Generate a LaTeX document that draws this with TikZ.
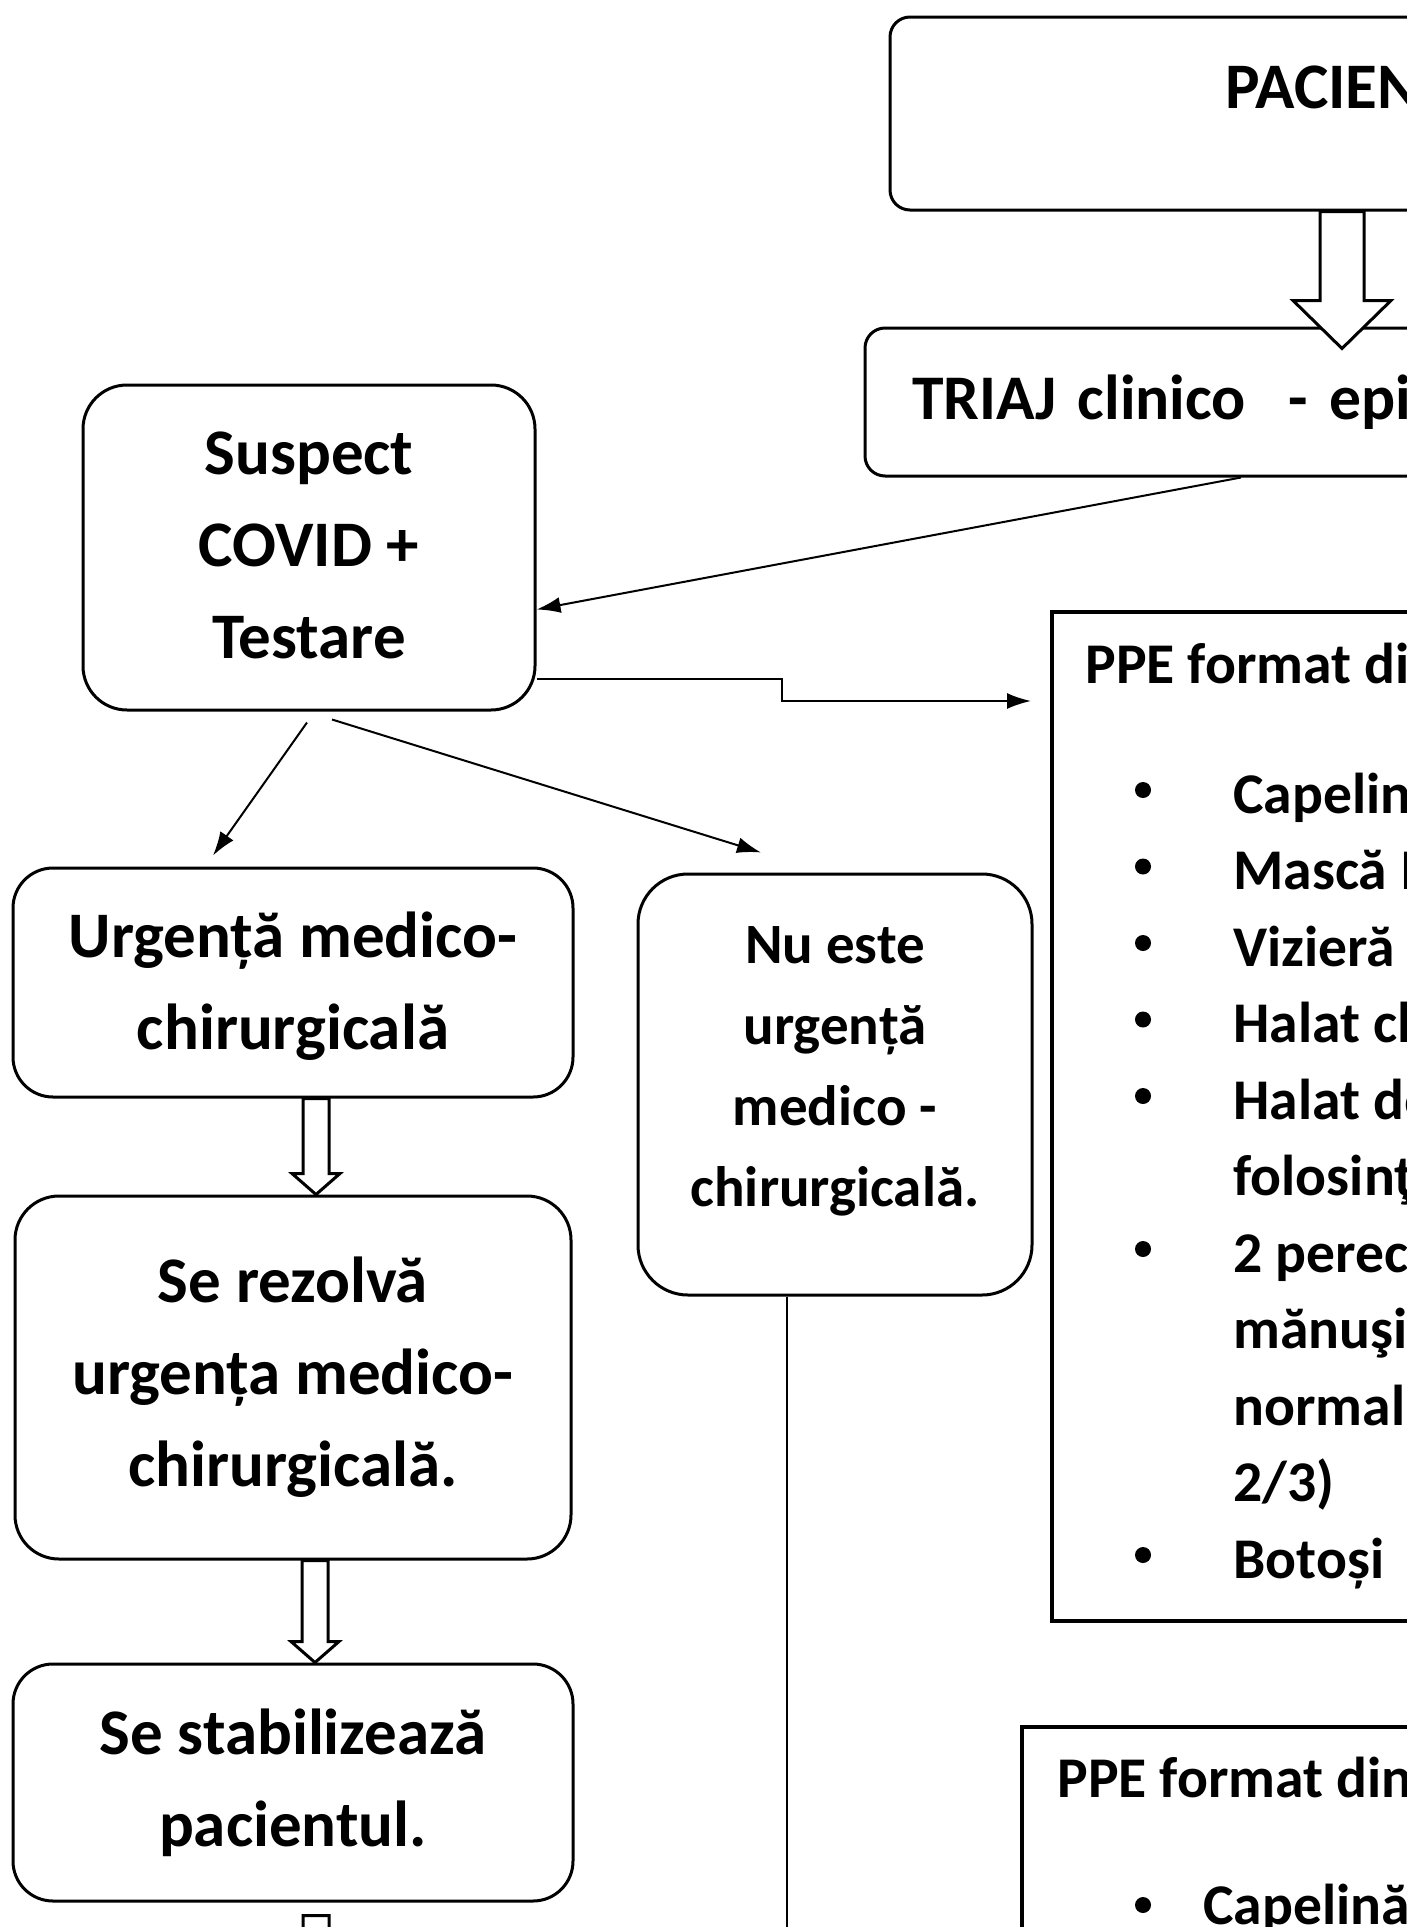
\documentclass[tikz,border=0pt]{standalone}
\usepackage{fontspec}
\setmainfont{Carlito}
\usetikzlibrary{positioning, arrows.meta, calc}

% hollow block arrow pointing down: start, tip, half shaft, half head, head length
\newcommand{\blockdown}[5]{%
  \draw[hollow] let \p1=(#1), \p2=(#2) in
    (\x1-#3,\y1) -- (\x1-#3,\y2+#5) -- (\x1-#4,\y2+#5) -- (\x1,\y2)
    -- (\x1+#4,\y2+#5) -- (\x1+#3,\y2+#5) -- (\x1+#3,\y1) -- cycle;}

\begin{document}
\begin{tikzpicture}[x=0.5pt, y=-0.5pt,
  box/.style = {draw, line width=1.5pt, rounded corners=22pt, align=center, inner sep=0pt,
    font=\bfseries\fontsize{32.5pt}{46pt}\selectfont},
  list/.style = {draw, line width=2pt, inner sep=0pt},
  txt/.style = {anchor=base west, inner sep=0pt, font=\bfseries\fontsize{28.8pt}{38pt}\selectfont},
  dot/.style = {circle, fill, inner sep=0pt, minimum size=8pt},
  arr/.style = {-{Latex[length=12pt, width=8pt]}, line width=1pt},
  hollow/.style = {draw, fill=white, line width=1.5pt}]
\useasboundingbox (0,0) rectangle (1407,1927);

% top
\node[box, rounded corners=10pt, minimum width=452pt, minimum height=96.5pt] (pac) at (1342,113.5) {};
\node[txt, font=\bfseries\fontsize{32.5pt}{46pt}\selectfont] (pactext) at (1225,108) {PACIEN};
\node[box, rounded corners=10pt, text width=430pt, align=left, inner xsep=23.5pt, minimum height=74pt,
  font=\bfseries\fontsize{31.8pt}{46pt}\selectfont] (triaj) at (1342,402) {TRIAJ clinico\ \ - epid};

% left column
\node[box, minimum width=226pt, minimum height=162.5pt, text depth=2pt] (susp) at (309,547.5) {Suspect\\COVID +\\Testare};
\node[box, rounded corners=20pt, minimum width=280pt, minimum height=114.5pt, text depth=2pt] (urg) at (293,982.5) {Urgență medico-\\chirurgicală};
\node[box, minimum width=278pt, minimum height=181.5pt] (rez) [below=48pt of urg] {Se rezolvă\\urgența medico-\\chirurgicală.};
\node[box, rounded corners=20pt, minimum width=280pt, minimum height=118.5pt] (stab) [below=51pt of rez] {Se stabilizează\\pacientul.};

% middle
\node[box, rounded corners=25pt, minimum width=197pt, minimum height=210.5pt, text depth=18pt,
  font=\bfseries\fontsize{28.5pt}{40.5pt}\selectfont] (nu) at (835,1084.5) {Nu este\\urgență\\medico -\\chirurgicală.};

% PPE lists
\node[list, minimum width=350pt, minimum height=504.5pt] (ppe1) at (1402,1116.5) {};
\node[txt] (ppe1title) at (1085,683) {PPE format di};
\foreach \t [count=\i from 0] in {Capelin, Mască I, Vizieră, Halat ch, Halat de, folosinţ, 2 perec, mănuşi, normala, 2/3), Botoși}
  \node[txt] (ppe1item\i) at (1233,{813+76.5*\i}) {\t};
\foreach \i in {0,1,2,3,4,6,10}
  \node[dot] (ppe1dot\i) at (1143,{790+76.5*\i}) {};

\node[list, minimum width=350pt, minimum height=250pt] (ppe2) at (1372,1977) {};
\node[txt] (ppe2title) at (1057,1797) {PPE format din};
\node[dot] (ppe2dot0) at (1143,1905) {};
\node[txt] (ppe2item0) at (1203,1924) {Capelină};

% connectors
\coordinate (ppein) at ([xshift=-9.5pt, yshift=-45.5pt]ppe1.north west);
\coordinate (nuend) at (787,1940);
\coordinate (nextstep) at (316,1990);

\draw[arr] ([xshift=-50.5pt]triaj.south) -- ([yshift=-31pt]susp.east);
\draw[arr] ([yshift=-65.5pt]susp.east) -| ([xshift=-124.5pt]ppein) -- (ppein);
\draw[arr] ([xshift=-1pt, yshift=-5.5pt]susp.south) -- ([xshift=-40pt, yshift=5.5pt]urg.north);
\draw[arr] ([xshift=11.5pt, yshift=-4pt]susp.south) -- ([xshift=-37pt, yshift=10pt]nu.north);
\draw[line width=1pt] ([xshift=-24pt]nu.south) -- (nuend);

\blockdown{pac.south}{[yshift=-11pt]triaj.north}{11pt}{24.5pt}{24pt}
\blockdown{[xshift=11.5pt]urg.south}{rez.north}{6.5pt}{12pt}{10.5pt}
\blockdown{[xshift=11pt]rez.south}{stab.north}{6.5pt}{12pt}{10.5pt}
\blockdown{[xshift=11.5pt, yshift=-6.5pt]stab.south}{nextstep}{6.5pt}{12pt}{10.5pt}

\end{tikzpicture}
\end{document}
